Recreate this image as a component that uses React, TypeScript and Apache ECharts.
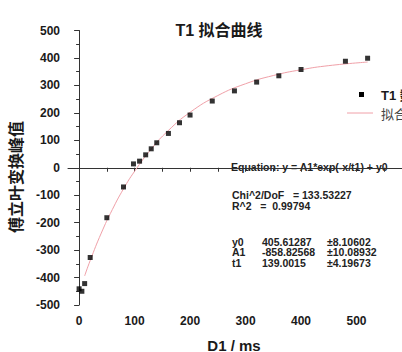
import React, { useEffect, useRef } from "react";
import * as echarts from "echarts";

const titleText = "T1 拟合曲线";
const xName = "D1 / ms";
const yName = "傅立叶变换峰值";
const legendNames = ["T1 数据", "拟合曲线"];

const dataX = [0, 5, 10, 20, 50, 80, 98, 109, 120, 130, 140, 161, 181, 200, 240, 280, 320, 360, 400, 480, 520];
const dataY = [-441, -450, -422, -327, -182, -70, 14, 24, 47, 69, 91, 125, 164, 192, 243, 280, 312, 335, 358, 388, 399];

const fitX = [10, 20, 40, 60, 80, 100, 130, 160, 200, 250, 300, 350, 400, 450, 520];
const fitY = [-394, -338, -238, -152, -77, -13, 68, 134, 202, 263, 306, 336, 357, 372, 385];

const xLabels = [0, 100, 200, 300, 400, 500];
const xTicks = [0, 50, 100, 150, 200, 250, 300, 350, 400, 450, 500, 550, 600];

const eqLines = [
  "Equation: y = A1*exp(-x/t1) + y0",
  "Chi^2/DoF   = 133.53227",
  "R^2   =  0.99794",
];
const paramNames = ["y0", "A1", "t1"];
const paramValues = ["405.61287", "-858.82568", "139.0015"];
const paramErrors = ["±8.10602", "±10.08932", "±4.19673"];

const FONT = "'Liberation Sans', Arial, 'Noto Sans CJK SC', sans-serif";
const TXT = "#1a1a1a";

export default function App() {
  const ref = useRef<HTMLDivElement>(null);
  useEffect(() => {
    document.body.style.margin = "0";
    document.body.style.overflow = "hidden";
    const chart = echarts.init(ref.current!, null, { renderer: "svg" });
    const textStyle = { fontFamily: FONT, fontWeight: "bold" as const, fontSize: 10.5, fill: "#222" };
    const graphics: any[] = [
      {
        type: "text",
        x: 15,
        y: 177,
        rotation: Math.PI / 2,
        style: { text: yName, font: `bold 16px 'Noto Sans CJK SC', sans-serif`, fill: TXT, align: "center", verticalAlign: "middle" },
      },
      // legend
      { type: "rect", shape: { x: 359, y: 92, width: 5, height: 5 }, style: { fill: "#000" } },
      { type: "text", x: 381, y: 95, style: { text: legendNames[0], font: `bold 13px ${FONT}`, fill: TXT, verticalAlign: "middle" } },
      { type: "line", shape: { x1: 347, y1: 113, x2: 373, y2: 113 }, style: { stroke: "#f0a0a8", lineWidth: 1 } },
      { type: "text", x: 381, y: 113, style: { text: legendNames[1], font: `13px 'Noto Sans CJK SC', sans-serif`, fill: "#444", verticalAlign: "middle" } },
      { type: "text", x: 231, y: 167, style: { ...textStyle, text: eqLines[0], verticalAlign: "middle" } },
      { type: "text", x: 232, y: 195, style: { ...textStyle, text: eqLines[1], verticalAlign: "middle" } },
      { type: "text", x: 232, y: 205.5, style: { ...textStyle, text: eqLines[2], verticalAlign: "middle" } },
    ];
    const rowsY = [241.5, 252, 262.5];
    paramNames.forEach((n, i) => {
      graphics.push({ type: "text", x: 232, y: rowsY[i], style: { ...textStyle, text: n, verticalAlign: "middle" } });
      graphics.push({ type: "text", x: 262, y: rowsY[i], style: { ...textStyle, text: paramValues[i], verticalAlign: "middle" } });
      graphics.push({ type: "text", x: 327, y: rowsY[i], style: { ...textStyle, text: paramErrors[i], verticalAlign: "middle" } });
    });

    chart.setOption({
      animation: false,
      backgroundColor: "#fff",
      title: {
        text: titleText,
        left: 214,
        top: 17,
        textAlign: "center",
        textStyle: { fontFamily: FONT, fontWeight: "bold", fontSize: 16, color: TXT },
      },
      grid: { left: 68, right: -10, top: 30.5, bottom: 47, containLabel: false, outerBoundsMode: "none" },
      xAxis: {
        type: "value",
        min: -20,
        max: 600,
        name: xName,
        nameLocation: "middle",
        nameGap: 33,
        nameTextStyle: { fontFamily: FONT, fontWeight: "bold", fontSize: 15, color: TXT, padding: [0, 12, 0, 0] },
        axisLine: { show: true, lineStyle: { color: "#333", width: 1 } },
        axisTick: { show: true, customValues: xTicks, length: 4, lineStyle: { color: "#333" } },
        axisLabel: { customValues: xLabels, margin: 10, fontFamily: FONT, fontWeight: "bold", fontSize: 12, color: TXT },
        splitLine: { show: false },
      },
      yAxis: {
        type: "value",
        min: -500,
        max: 500,
        interval: 100,
        axisLine: { show: true, lineStyle: { color: "#333", width: 1 } },
        axisTick: { show: true, length: 5, lineStyle: { color: "#333" } },
        minorTick: { show: true, splitNumber: 2, length: 3, lineStyle: { color: "#333" } },
        axisLabel: { margin: 8, fontFamily: FONT, fontWeight: "bold", fontSize: 12, color: TXT },
        splitLine: { show: false },
      },
      series: [
        {
          name: legendNames[1],
          type: "line",
          data: fitX.map((x, i) => [x, fitY[i]]),
          smooth: true,
          showSymbol: false,
          symbol: "none",
          lineStyle: { color: "#f0a0a8", width: 1 },
          z: 1,
        },
        {
          name: legendNames[0],
          type: "scatter",
          data: dataX.map((x, i) => [x, dataY[i]]),
          symbol: "rect",
          symbolSize: 5,
          itemStyle: { color: "#000" },
          z: 2,
        },
      ],
      graphic: graphics,
    });
    return () => chart.dispose();
  }, []);
  return <div ref={ref} style={{ width: 402, height: 352 }} />;
}
